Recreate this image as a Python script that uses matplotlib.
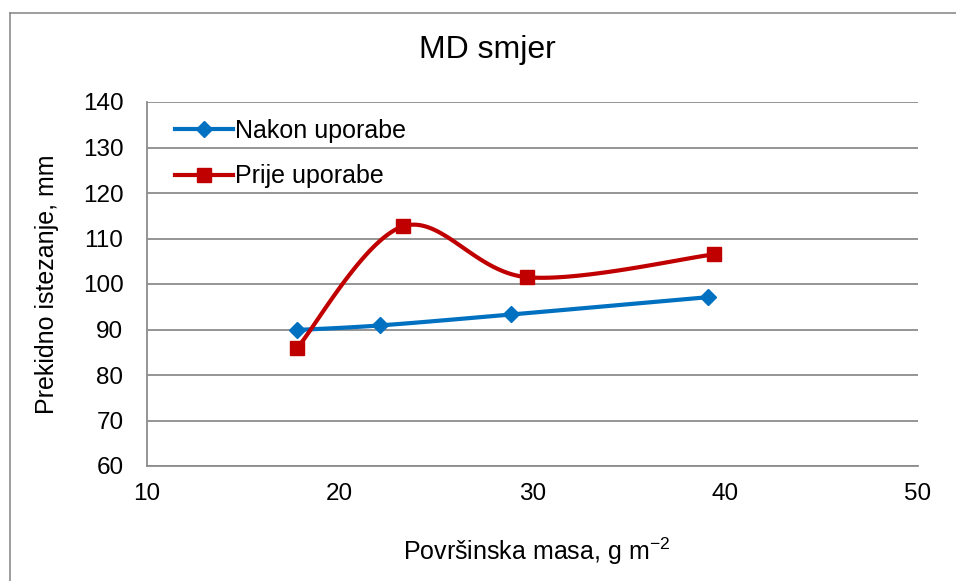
import numpy as np
import matplotlib.pyplot as plt
from matplotlib.lines import Line2D

plt.rcParams['font.family'] = ['Liberation Sans', 'DejaVu Sans']

x_nakon = [17.8, 22.1, 28.9, 39.1]
y_nakon = [89.9, 90.9, 93.3, 97.1]
x_prije = [17.8, 23.3, 29.7, 39.4]
y_prije = [86.0, 112.7, 101.5, 106.5]

def smooth(xs, ys, n=40):
	# excel-like bezier smoothing between points
	p = np.column_stack([xs, ys]).astype(float)
	ext = np.vstack([p[0], p, p[-1]])
	out = []
	t = np.linspace(0, 1, n)[:, None]
	for i in range(len(p) - 1):
		p0 = p[i]
		p3 = p[i + 1]
		p1 = p0 + (ext[i + 2] - ext[i]) / 6.0
		p2 = p3 - (ext[i + 3] - ext[i + 1]) / 6.0
		seg = (1 - t)**3 * p0 + 3 * (1 - t)**2 * t * p1 + 3 * (1 - t) * t**2 * p2 + t**3 * p3
		out.append(seg)
	out = np.vstack(out)
	return out[:, 0], out[:, 1]

fig = plt.figure(figsize=(9.56, 5.81), dpi=100)
# outer chart border (only left and top visible)
bx, by = 9.5/956, 1 - 12.5/581
fig.add_artist(Line2D([bx, bx], [0, by], transform=fig.transFigure, color='#8c8c8c', linewidth=1.2))
fig.add_artist(Line2D([bx, 1], [by, by], transform=fig.transFigure, color='#8c8c8c', linewidth=1.2))

ax = fig.add_axes([147/956, 1 - 466/581, (918 - 147)/956, (466 - 102)/581])

blue = '#0070C0'
red = '#C00000'
sx, sy = smooth(x_nakon, y_nakon)
ax.plot(sx, sy, color=blue, linewidth=3, zorder=3)
ax.plot(x_nakon, y_nakon, 'D', color=blue, markersize=8, zorder=4)
sx, sy = smooth(x_prije, y_prije)
ax.plot(sx, sy, color=red, linewidth=3, zorder=3)
ax.plot(x_prije, y_prije, 's', color=red, markersize=10, zorder=4)

ax.plot([], [], color=blue, linewidth=3, marker='D', markersize=8, label='Nakon uporabe')
ax.plot([], [], color=red, linewidth=3, marker='s', markersize=10, label='Prije uporabe')

ax.set_xlim(10, 50)
ax.set_ylim(60, 140)
ax.set_xticks(range(10, 51, 10))
ax.set_yticks(range(60, 141, 10))
ax.grid(axis='y', color='#8c8c8c', linewidth=1.3)
ax.set_axisbelow(True)
for s in ['top', 'right']:
	ax.spines[s].set_visible(False)
for s in ['left', 'bottom']:
	ax.spines[s].set_color('#8c8c8c')
	ax.spines[s].set_linewidth(1.3)
ax.tick_params(length=0, labelsize=17.5, pad=12)
ax.tick_params(axis='y', pad=17)

ax.legend(loc='upper left', frameon=False, fontsize=18, handlelength=2.3,
	labelspacing=0.85, handletextpad=0.1, borderpad=0.3, bbox_to_anchor=(0.011, 1.008))

fig.text(487/956, 1 - 50/581, 'MD smjer', ha='center', va='center', fontsize=23)
fig.text(537/956, 1 - 551/581, 'Površinska masa, g m$^{\\mathregular{-2}}$', ha='center', va='center', fontsize=18)
fig.text(47/956, 1 - 284/581, 'Prekidno istezanje, mm', ha='center', va='center',
	rotation=90, fontsize=18)

plt.savefig('out.png', dpi=100)
